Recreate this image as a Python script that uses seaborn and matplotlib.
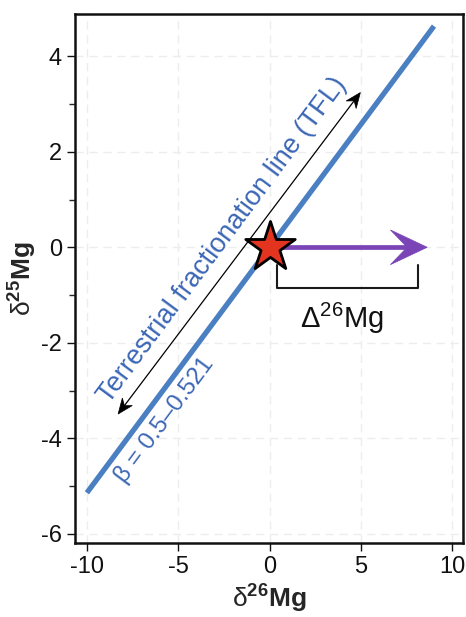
import numpy as np
import pandas as pd
import matplotlib
matplotlib.use("Agg")
import matplotlib.pyplot as plt
from matplotlib.patches import Polygon
import seaborn as sns

# Data
tfl_x = [-10.0, 9.0]
tfl_y = [-5.14, 4.63]
star_x = [0.0]
star_y = [0.0]
arrow_end_x = 8.63
bracket_x = [0.41, 0.41, 8.14, 8.14]
bracket_y = [-0.37, -0.85, -0.85, -0.37]
tfl_arrow_start = (4.97, 3.24)
tfl_arrow_end = (-8.29, -3.49)
xticks = [-10, -5, 0, 5, 10]
yticks = [-6, -4, -2, 0, 2, 4]
yminor = [-5, -3, -1, 1, 3]

sns.set_style("ticks")
plt.rcParams['font.family'] = ['Liberation Sans', 'DejaVu Sans']
plt.rcParams['mathtext.fontset'] = 'custom'
plt.rcParams['mathtext.rm'] = 'Liberation Sans'
plt.rcParams['mathtext.bf'] = 'Liberation Sans:bold'
plt.rcParams['mathtext.it'] = 'Liberation Sans:italic'

DPI = 100
fig = plt.figure(figsize=(4.66, 6.17), dpi=DPI)
ax = fig.add_axes([0.161, 0.12, 0.833, 0.857])

ax.set_xlim(-10.65, 10.6)
ax.set_ylim(-6.19, 4.88)

ax.grid(True, color='#ededed', linestyle=(0, (6, 4)), linewidth=1.0)
ax.set_axisbelow(True)


def stealth_arrow(ax, start, tip, L, W, notch, color, lw, z, both=False):
    """Draw a shaft with stealth-style head(s); sizes in points."""
    s = np.array(ax.transData.transform(start))
    t = np.array(ax.transData.transform(tip))
    d = t - s
    u = d / np.hypot(*d)
    k = DPI / 72.0

    def head(p, uu):
        nn = np.array([-uu[1], uu[0]])
        verts = [p, p - uu * L * k + nn * W / 2 * k, p - uu * notch * k,
                 p - uu * L * k - nn * W / 2 * k]
        verts = ax.transData.inverted().transform(np.array(verts))
        ax.add_patch(Polygon(verts, closed=True, facecolor=color, edgecolor=color,
                             lw=0.5, zorder=z + 0.1))

    t_end = t - u * notch * k * 0.9
    s_end = s + u * notch * k * 0.9 if both else s
    pts = ax.transData.inverted().transform(np.array([s_end, t_end]))
    ax.plot(pts[:, 0], pts[:, 1], color=color, lw=lw, solid_capstyle='butt', zorder=z)
    head(t, u)
    if both:
        head(s, -u)


df_line = pd.DataFrame({'x': tfl_x, 'y': tfl_y})
sns.lineplot(data=df_line, x='x', y='y', ax=ax, color='#4a7fc2', linewidth=3.8,
             solid_capstyle='butt', zorder=3)

# black double arrow parallel to TFL
stealth_arrow(ax, tfl_arrow_start, tfl_arrow_end, L=11, W=9, notch=7.5,
              color='black', lw=0.9, z=4, both=True)

# purple arrow
stealth_arrow(ax, (star_x[0], star_y[0]), (arrow_end_x, 0.0), L=26.5, W=25, notch=14.5,
              color='#7a44b6', lw=3.4, z=4)

# bracket
ax.plot(bracket_x, bracket_y, color='#1a1a1a', lw=1.5, zorder=4)

df_star = pd.DataFrame({'x': star_x, 'y': star_y})
sns.scatterplot(data=df_star, x='x', y='y', ax=ax, marker='*', s=1400,
                color='#e2341f', edgecolor='black', linewidth=2.0, zorder=5)

angle = 53.4
ax.text(-2.6, 0.15, 'Terrestrial fractionation line (TFL)', color='#3b66b5',
        fontsize=19.5, rotation=angle, rotation_mode='anchor', ha='center', va='center',
        zorder=6)
ax.text(-5.73, -3.62, 'β = 0.5–0.521', color='#3b66b5',
        fontsize=17.5, rotation=angle, rotation_mode='anchor', ha='center', va='center', zorder=6)
ax.text(3.97, -1.48, r'$\Delta^{26}$Mg', color='#111111', fontsize=21,
        ha='center', va='center', zorder=6)

ax.set_xticks(xticks)
ax.set_xticklabels([str(v) for v in xticks])
ax.set_yticks(yticks)
ax.set_yticklabels([str(v) for v in yticks])
ax.set_yticks(yminor, minor=True)
ax.tick_params(axis='both', which='major', labelsize=17, length=6, width=1.0,
               direction='out', colors='#111111')
ax.tick_params(axis='y', which='minor', length=4, width=1.0, direction='out')

for s in ax.spines.values():
    s.set_visible(True)
    s.set_linewidth(1.8)
    s.set_color('#111111')

ax.set_xlabel(r'$\mathrm{\delta}^{\mathbf{26}}\mathbf{Mg}$', fontsize=19, labelpad=3)
ax.set_ylabel(r'$\mathrm{\delta}^{\mathbf{25}}\mathbf{Mg}$', fontsize=19, labelpad=1)

fig.savefig('out.png', dpi=DPI)
